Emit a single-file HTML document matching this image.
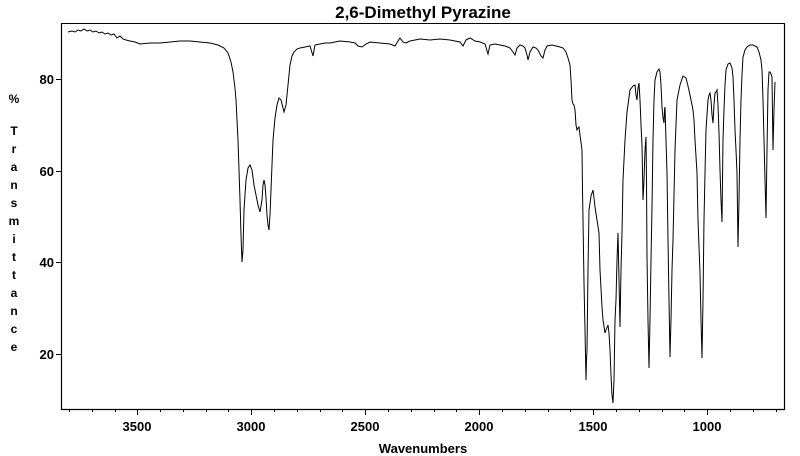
<!DOCTYPE html>
<html><head><meta charset="utf-8"><style>
html,body{margin:0;padding:0;background:#fff;}
svg{display:block;font-family:"Liberation Sans",Arial,sans-serif;font-weight:bold;}
</style></head><body>
<svg width="800" height="456" viewBox="0 0 800 456" xmlns="http://www.w3.org/2000/svg">
<rect width="800" height="456" fill="#fff"/>
<text x="423" y="18" font-size="17" text-anchor="middle">2,6-Dimethyl Pyrazine</text>
<path d="M61.5 24 V409.5 H784.5 V24" fill="none" stroke="#000" stroke-width="1.2"/>
<line x1="61" y1="23.5" x2="785" y2="23.5" stroke="#000" stroke-width="1"/>
<g stroke="#000" stroke-width="1">
<line x1="56" y1="79.5" x2="61" y2="79.5"/><line x1="56" y1="171.5" x2="61" y2="171.5"/>
<line x1="56" y1="262.5" x2="61" y2="262.5"/><line x1="56" y1="354.5" x2="61" y2="354.5"/>
<line x1="137.5" y1="409" x2="137.5" y2="415"/><line x1="251.5" y1="409" x2="251.5" y2="415"/>
<line x1="365.5" y1="409" x2="365.5" y2="415"/><line x1="479.5" y1="409" x2="479.5" y2="415"/>
<line x1="593.5" y1="409" x2="593.5" y2="415"/><line x1="707.5" y1="409" x2="707.5" y2="415"/>
<g>
<line x1="69.5" y1="409" x2="69.5" y2="412"/><line x1="92.5" y1="409" x2="92.5" y2="412"/><line x1="115.5" y1="409" x2="115.5" y2="412"/>
<line x1="160.5" y1="409" x2="160.5" y2="412"/><line x1="183.5" y1="409" x2="183.5" y2="412"/><line x1="206.5" y1="409" x2="206.5" y2="412"/><line x1="228.5" y1="409" x2="228.5" y2="412"/>
<line x1="274.5" y1="409" x2="274.5" y2="412"/><line x1="297.5" y1="409" x2="297.5" y2="412"/><line x1="320.5" y1="409" x2="320.5" y2="412"/><line x1="342.5" y1="409" x2="342.5" y2="412"/>
<line x1="388.5" y1="409" x2="388.5" y2="412"/><line x1="411.5" y1="409" x2="411.5" y2="412"/><line x1="434.5" y1="409" x2="434.5" y2="412"/><line x1="456.5" y1="409" x2="456.5" y2="412"/>
<line x1="502.5" y1="409" x2="502.5" y2="412"/><line x1="525.5" y1="409" x2="525.5" y2="412"/><line x1="548.5" y1="409" x2="548.5" y2="412"/><line x1="570.5" y1="409" x2="570.5" y2="412"/>
<line x1="616.5" y1="409" x2="616.5" y2="412"/><line x1="639.5" y1="409" x2="639.5" y2="412"/><line x1="662.5" y1="409" x2="662.5" y2="412"/><line x1="684.5" y1="409" x2="684.5" y2="412"/>
<line x1="730.5" y1="409" x2="730.5" y2="412"/><line x1="753.5" y1="409" x2="753.5" y2="412"/><line x1="776.5" y1="409" x2="776.5" y2="412"/>
</g></g>
<g font-size="13" text-anchor="end">
<text x="54" y="84">80</text><text x="54" y="176">60</text><text x="54" y="267">40</text><text x="54" y="359">20</text>
</g>
<g font-size="13" text-anchor="middle">
<text x="137" y="431">3500</text><text x="251" y="431">3000</text><text x="365" y="431">2500</text>
<text x="479" y="431">2000</text><text x="593" y="431">1500</text><text x="707" y="431">1000</text>
<text x="423" y="453">Wavenumbers</text>
</g>
<g font-size="12" text-anchor="middle">
<text x="14" y="103">%</text>
<text x="14" y="135">T</text><text x="14" y="153">r</text><text x="14" y="171">a</text><text x="14" y="189">n</text>
<text x="14" y="207">s</text><text x="14" y="225">m</text><text x="14" y="243">i</text><text x="14" y="261">t</text>
<text x="14" y="279">t</text><text x="14" y="297">a</text><text x="14" y="315">n</text><text x="14" y="333">c</text><text x="14" y="351">e</text>
</g>
<polyline fill="none" stroke="#000" stroke-width="1" points="
68,32 72,31 75,32 78,30 81,31 84,29 87,31 90,30 93,32 96,31 99,33 102,32 105,34 108,33 111,35 114,34 117,38 120,36 123,39 126,40 130,41 135,42 140,44 150,43 160,43 170,42 180,41 190,41 200,42 210,43 218,45 224,48 228,53 231,62 233,72 235,88 236,100 237,120 238,140 239,170 240,200 241,235 242,262 243,250 244,210 246,180 248,168 250,165 252,170 254,185 256,195 258,205 260,212 262,200 263,185 264,180 265,185 266,198 267,215 268,225 269,230 270,215 271,190 272,165 273,140 275,118 277,105 279,98 281,100 283,108 284,112 286,105 287,95 289,75 290,65 292,56 294,52 297,49 300,48 305,47 310,46 313,56 315,45 320,44 325,43 330,43 340,41 350,42 355,43 358,46 362,47 366,44 370,42 380,43 390,44 395,46 398,41 400,38 403,42 406,43 410,41 415,40 420,39 430,40 440,39 450,40 455,41 460,42 463,46 466,40 470,38 475,41 480,42 485,44 488,54 490,45 495,44 500,45 505,46 510,48 513,52 515,55 517,48 520,45 523,46 525,48 527,55 528,60 530,52 533,47 536,48 538,50 541,56 543,58 545,50 547,46 552,45 556,46 560,47 563,48 566,52 568,58 570,65 571,80 572,100 573,104 574,105 575,110 576,125 577,130 578,128 579,127 580,135 582,150 582.5,190 583,220 584,283 585,330 586,380 586.5,360 587,350 588,270 589,210 591,196 593,190 594,198 595,207 597,220 599,233 600,270 602,307 603,320 605,333 606,330 608,325 609,333 610,350 611,375 612,395 613,403 614,380 615,320 616,300 617,260 618,233 619,280 620,327 621,270 622,233 623,180 625,140 627,112 630,90 633,86 635,85 636,95 637,100 638,88 639,83 640,100 641,125 642,145 643,200 644,180 645,150 646,137 646.5,180 647,257 648,320 649,368 650,320 651,260 652,207 653,140 654,100 655,80 657,72 659,69 660,72 661,85 662,107 663,118 664,123 664.5,110 665,107 666,140 667,173 668,240 669,300 670,357 671,320 672,270 673,240 675,150 677,100 680,85 683,76 686,78 688,86 690,95 692,105 693,110 694,120 695,140 697,173 698,220 700,273 701,320 702,358 703,300 704,220 705,173 706,130 708,100 709,95 710,93 711,100 712,115 713,123 714,105 715,93 716,92 717,90 718,105 719,133 720,170 721,200 722,222 722.5,180 723,140 724,110 725,85 726,70 728,64 730,63 732,68 733,77 734,100 735,130 736,150 737,173 738,247 739,200 740,140 741,100 742,75 743,57 745,50 747,47 750,45 753,45 757,47 759,52 761,60 762,70 763,100 764,140 765,180 766,218 767,150 768,90 769,72 770,72 771,74 772,77 773,150 774,110 775,82"/>
</svg>
</body></html>
